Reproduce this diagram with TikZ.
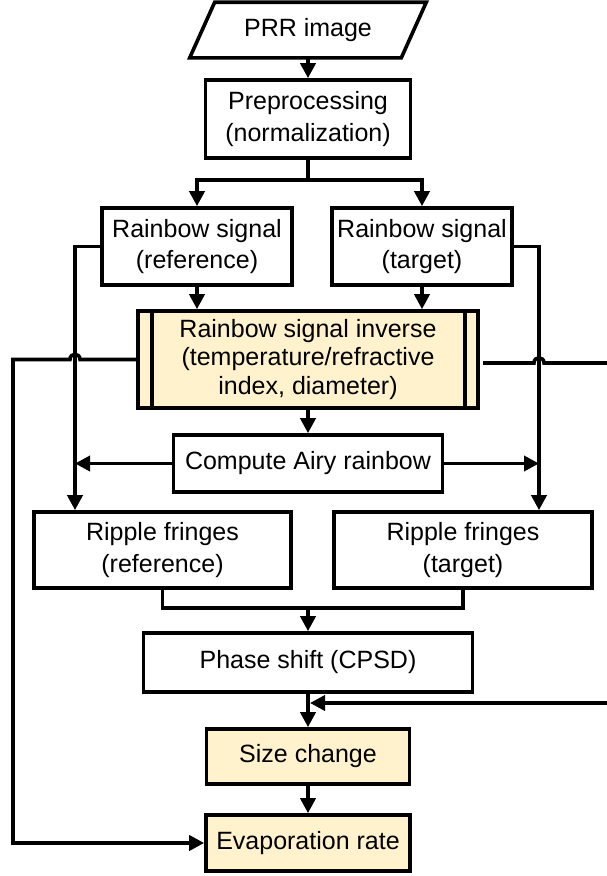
\documentclass[tikz,border=0pt]{standalone}
\usepackage{fontspec}
\setmainfont{Liberation Sans}
\usetikzlibrary{arrows.meta}
\definecolor{procfill}{HTML}{FFF2CC}
\begin{document}
\begin{tikzpicture}[x=1pt,y=-1pt,
  line width=3.6pt, line join=miter,
  box/.style={draw, rectangle, inner sep=0pt, align=center,
              font=\fontsize{25}{31.5}\selectfont},
  hl/.style={box, fill=procfill},
  arr/.style={-{Triangle[length=15pt,width=15pt]}}]
\useasboundingbox (0,0) rectangle (607,876);
\clip (0,0) rectangle (607,876);

% input parallelogram
\node[box, draw=none, minimum width=208, minimum height=52] (prr) at (308,30) {PRR image};
\draw ([xshift=12.5pt]prr.north west) -- ([xshift=12.5pt]prr.north east)
   -- ([xshift=-12.5pt]prr.south east) -- ([xshift=-12.5pt]prr.south west) -- cycle;

% process boxes
\node[box, minimum width=205, minimum height=78] (pre) at (308,119) {Preprocessing\\(normalization)};
\node[box, minimum width=190, minimum height=77] (ref) at (197,246.5) {Rainbow signal\\(reference)};
\node[box, minimum width=180, minimum height=77] (tgt) at (422,246.5) {Rainbow signal\\(target)};
\node[hl, minimum width=340, minimum height=97, font=\fontsize{25}{28.5}\selectfont] (inv) at (308,359.5)
  {Rainbow signal inverse\\(temperature/refractive\\index, diameter)};
\draw ([xshift=16pt]inv.north west) -- ([xshift=16pt]inv.south west);
\draw ([xshift=-15pt]inv.north east) -- ([xshift=-15pt]inv.south east);
\node[box, minimum width=269, minimum height=57] (airy) at (308,463.5) {Compute Airy rainbow};
\node[box, minimum width=257, minimum height=76] (rref) at (162.5,550) {Ripple fringes\\(reference)};
\node[box, minimum width=258, minimum height=76] (rtgt) at (463,550) {Ripple fringes\\(target)};
\node[box, minimum width=329, minimum height=59] (phase) at (308,662.5) {Phase shift (CPSD)};
\node[hl, minimum width=203, minimum height=55] (size) at (308,756.5) {Size change};
\node[hl, minimum width=204, minimum height=56] (evap) at (308,843) {Evaporation rate};

% routing coordinates
\coordinate (lx) at (75,0);
\coordinate (rx) at (539,0);
\coordinate (la) at (80,0);
\coordinate (lb) at (70,0);
\coordinate (ra) at (534,0);
\coordinate (rb) at (544,0);
\coordinate (fl) at (13,0);
\coordinate (fr) at (640,0);
\coordinate (rs) at (483,0);
\coordinate (ry) at (0,363);
\coordinate (fb) at (0,703);
\coordinate (mg) at (0,608);
\coordinate (tipx) at (310,0);

% main flow
\draw[arr] (prr.south) -- (pre.north);
\draw[arr] (pre.south) -- ++(0,20) -| (ref.north);
\draw[arr] (pre.south) -- ++(0,20) -| (tgt.north);
\draw[arr] (ref.south) -- (ref.south |- inv.north);
\draw[arr] (tgt.south) -- (tgt.south |- inv.north);
\draw[arr] (ref.west) -| (rref.north -| lx);
\draw[arr] (tgt.east) -| (rtgt.north -| rx);
\draw[arr] (inv.south) -- (airy.north);
\draw[arr] (airy.west) -- (airy.west -| lx);
\draw[arr] (airy.east) -- (airy.east -| rx);
\draw (rref.south) -- (rref.south |- mg) -| (rtgt.south);
\draw[arr] (phase.north |- mg) -- (phase.north);
\draw[arr] (phase.south) -- (size.north);
\draw[arr] (size.south) -- (evap.north);

% feedback loops with line jumps
\draw[arr] (inv.west) -- (inv.west -| la)
   .. controls +(0,-7) and +(0,-7) .. (inv.west -| lb)
   -- (inv.west -| fl) |- (evap.west);
\draw[arr] (rs |- ry) -- (ra |- ry)
   .. controls +(0,-7) and +(0,-7) .. (rb |- ry)
   -- (fr |- ry) -- (fr |- fb) -- (tipx |- fb);
\end{tikzpicture}
\end{document}
